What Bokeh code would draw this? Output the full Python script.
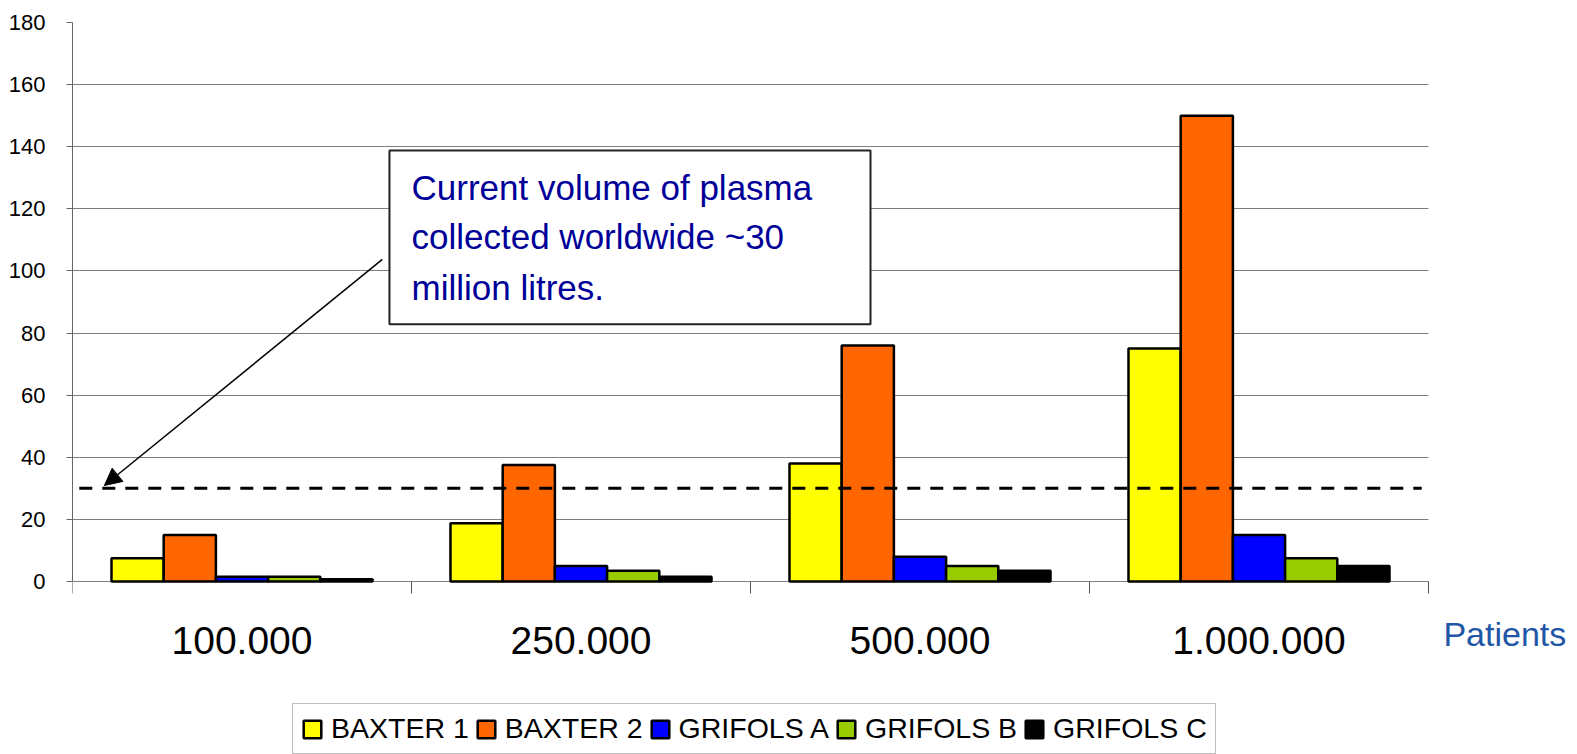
from bokeh.plotting import figure
from bokeh.models import (ColumnDataSource, Range1d, FixedTicker, Legend, LegendItem,
                          BoxAnnotation, Label, Arrow, NormalHead)
from bokeh.core.properties import value
from bokeh.transform import dodge
from bokeh.embed import file_html
from bokeh.resources import INLINE

# ---- data ----
categories = ["100.000", "250.000", "500.000", "1.000.000"]
series_names = ["BAXTER 1", "BAXTER 2", "GRIFOLS A", "GRIFOLS B", "GRIFOLS C"]
baxter_1 = [7.5, 18.75, 38, 75]
baxter_2 = [15, 37.5, 76, 150]
grifols_a = [1.5, 5, 8, 15]
grifols_b = [1.5, 3.5, 5, 7.5]
grifols_c = [0.75, 1.5, 3.5, 5]
y_ticks = [0, 20, 40, 60, 80, 100, 120, 140, 160, 180]
current_volume = 30
note_lines = ["Current volume of plasma", "collected worldwide ~30", "million litres."]
x_title = "Patients"

colors = ["#FFFF00", "#FF6600", "#0000FF", "#99CC00", "#000000"]
series_values = [baxter_1, baxter_2, grifols_a, grifols_b, grifols_c]

n_cat = len(categories)
centers = [i + 0.5 for i in range(n_cat)]
data = {"x": centers, "label": categories}
for name, vals in zip(series_names, series_values):
    data[name] = vals
source = ColumnDataSource(data)

REG = "Liberation Sans"

Y_MAX = y_ticks[-1]
PX_PER_UNIT = 559 / Y_MAX       # vertical scale of the value axis
X_PX_PER_CAT = 339              # width of one category
W, H = 1577, 754
LEFT, TOP = 72, 22
y_min = -(H - TOP - 559) / PX_PER_UNIT
x_max = (W - LEFT) / X_PX_PER_CAT

p = figure(width=W, height=H, output_backend="svg", toolbar_location=None,
           x_range=Range1d(0, x_max), y_range=Range1d(y_min, Y_MAX),
           x_axis_location=None,
           min_border_left=LEFT, min_border_right=0, min_border_top=TOP, min_border_bottom=0)
p.outline_line_color = None
p.background_fill_color = "white"
p.border_fill_color = "white"

bar_w = 0.154
renderers = []
for k, (name, col) in enumerate(zip(series_names, colors)):
    r = p.vbar(x=dodge("x", (k - 2) * bar_w, range=p.x_range), top=name, width=bar_w,
               source=source, fill_color=col, line_color="black", line_width=2.5)
    renderers.append(r)

# grid (horizontal lines, incl. the category axis line at 0)
p.xgrid.visible = False
p.ygrid.ticker = FixedTicker(ticks=y_ticks)
p.ygrid.grid_line_color = "#7f7f7f"
p.ygrid.grid_line_width = 1
mask_needed = False
try:
    p.ygrid.cross_bounds = (0, n_cat)
except Exception:
    mask_needed = True

ya = p.yaxis[0]
ya.ticker = FixedTicker(ticks=y_ticks)
ya.bounds = (0, Y_MAX)
ya.axis_line_color = "#666666"
ya.major_tick_line_color = "#666666"
ya.major_tick_out = 6
ya.major_tick_in = 0
ya.minor_tick_line_color = None
ya.major_label_text_font = REG
ya.major_label_text_font_size = "22px"
ya.major_label_text_color = "black"
ya.major_label_standoff = 21

# category separators (ticks of the category axis)
tick_len = 12 / PX_PER_UNIT
bounds_x = list(range(n_cat + 1))
p.segment(x0=bounds_x, y0=[0] * len(bounds_x), x1=bounds_x, y1=[-tick_len] * len(bounds_x),
          line_color="#555555", line_width=1)

# category labels
p.text(x="x", y=-18.9, text="label", source=source, text_font=value(REG),
       text_font_size="39px", text_color="black", text_align="center",
       text_baseline="alphabetic")

# reference line
p.segment(x0=[0.02], y0=[current_volume], x1=[3.98], y1=[current_volume],
          line_color="black", line_width=3, line_dash="13 10")

if mask_needed:
    p.add_layout(BoxAnnotation(left=n_cat + 0.003, right=x_max, bottom=-1, top=Y_MAX,
                               fill_color="white", fill_alpha=1.0, line_color=None))

# note box
p.add_layout(BoxAnnotation(left=0.935, right=2.354, bottom=82.8, top=138.8,
                           fill_color="white", fill_alpha=1.0,
                           line_color="#222222", line_width=2, line_alpha=1.0))
for txt, yy in zip(note_lines, [127.0, 111.2, 94.8]):
    p.add_layout(Label(x=1.0, y=yy, text=txt, text_font=REG, text_font_size="35px",
                       text_color="#000099", text_baseline="alphabetic", text_align="left"))

# arrow
p.add_layout(Arrow(end=NormalHead(size=17, fill_color="black", line_color="black"),
                   x_start=0.914, y_start=103.7, x_end=0.094, y_end=30.9,
                   line_width=1.5, line_color="black"))

# x title
p.add_layout(Label(x=4.044, y=-17.0, text=x_title, text_font=REG, text_font_size="34px",
                   text_color="#1F56A6", text_baseline="alphabetic", text_align="left"))

legend = Legend(items=[LegendItem(label=n, renderers=[r]) for n, r in zip(series_names, renderers)],
                orientation="horizontal", location=(220, 0))
legend.label_text_font = REG
legend.label_text_font_size = "28.5px"
legend.label_text_color = "black"
legend.glyph_width = 22
legend.glyph_height = 22
legend.label_standoff = 8
legend.spacing = 6
legend.padding = 8
legend.margin = 0
legend.border_line_color = "#808080"
legend.border_line_width = 1.5
legend.background_fill_color = "white"
legend.background_fill_alpha = 1.0
p.add_layout(legend)

open("out.html", "w").write(file_html(p, INLINE))
